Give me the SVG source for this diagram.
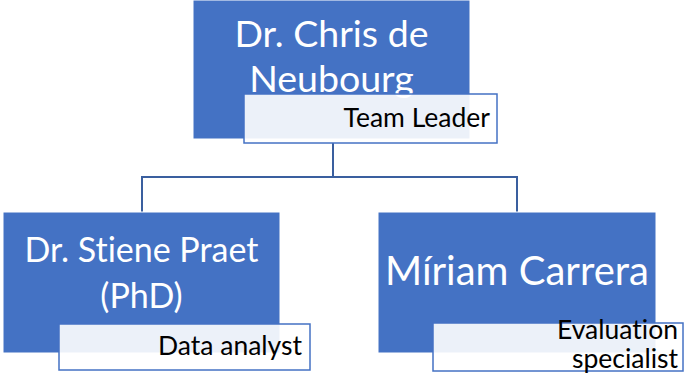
<svg xmlns="http://www.w3.org/2000/svg" width="684" height="374" viewBox="0 0 684 374">
  <style>
    .box { fill: #4472C4; stroke: #FFFFFF; stroke-width: 1; }
    .tag { fill: #FFFFFF; fill-opacity: 0.9; stroke: #4472C4; stroke-width: 1.5; }
    text { font-family: Lato, "Open Sans", sans-serif; font-variant-ligatures: none; font-feature-settings: "liga" 0, "clig" 0, "dlig" 0; }
    .name { fill: #FFFFFF; text-anchor: middle; }
    .role { fill: #000000; text-anchor: end; font-size: 26.5px; }
    .link { fill: none; stroke: #3A5F9F; stroke-width: 2; }
  </style>
  <rect width="684" height="374" fill="#FFFFFF"/>

  <g id="connectors">
    <path class="link" d="M333 143 V177"/>
    <path class="link" d="M142 212 V177 H517 V212"/>
  </g>

  <g id="node-leader">
    <rect class="box" x="193" y="0" width="277" height="139"/>
    <text class="name" x="331.5" y="47" font-size="37.5">Dr. Chris de</text>
    <text class="name" x="331.5" y="92" font-size="37.5">Neubourg</text>
    <rect class="tag" x="244" y="94" width="253" height="49"/>
    <text class="role" x="490" y="127">Team Leader</text>
  </g>

  <g id="node-analyst">
    <rect class="box" x="3" y="212" width="277" height="141"/>
    <text class="name" x="141.5" y="262" font-size="34">Dr. Stiene Praet</text>
    <text class="name" x="141.5" y="308" font-size="34">(PhD)</text>
    <rect class="tag" x="59" y="324" width="251" height="46"/>
    <text class="role" x="302" y="355">Data analyst</text>
  </g>

  <g id="node-evaluation">
    <rect class="box" x="378" y="212" width="278" height="141"/>
    <text class="name" x="517" y="285" font-size="40">Míriam Carrera</text>
    <rect class="tag" x="433" y="323" width="250" height="48"/>
    <text class="role" x="678" y="339">Evaluation</text>
    <text class="role" x="678" y="368">specialist</text>
  </g>
</svg>
